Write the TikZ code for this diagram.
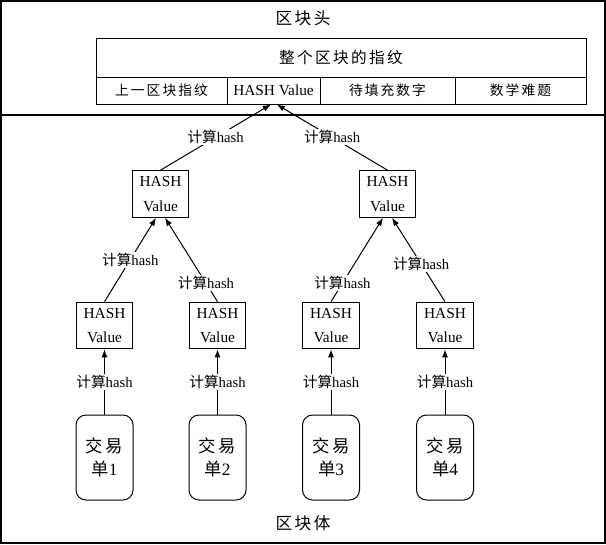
\documentclass[tikz,border=0pt]{standalone}
\usepackage{fontspec}
\setmainfont{Liberation Serif}
\newfontfamily\cjk{Noto Sans CJK SC}
\newfontfamily\cjks[LetterSpace=15]{Noto Sans CJK SC}
\newcommand{\zh}[1]{{\cjk #1}}
\newcommand{\zhs}[1]{{\cjks #1}}
\usetikzlibrary{arrows.meta}

\begin{document}
\begin{tikzpicture}[x=0.75pt,y=-0.75pt,line width=0.75pt]
\tikzstyle{every node}+=[inner sep=0pt]
\tikzstyle{cell}=[draw,minimum height=20.25pt,font=\fontsize{11.5}{13}\selectfont]
\tikzstyle{hashbox}=[draw,minimum width=42.5pt,minimum height=35pt,align=center,font=\fontsize{11.5}{18.5}\selectfont]
\tikzstyle{txbox}=[draw,rounded corners=7.5pt,minimum width=42.75pt,minimum height=63.75pt,align=center,font=\fontsize{13}{17.25}\selectfont]
\tikzstyle{lbl}=[fill=white,inner sep=1pt,font=\fontsize{11}{12}\selectfont]
\tikzstyle{arr}=[-{Latex[length=6pt,width=4.5pt]}]
\useasboundingbox (0,0) rectangle (606,544);
% frame and separator
\draw [line width=1.5pt] (0.75,0.75) rectangle (604.5,542.5);
\draw [line width=1.5pt] (0,115) -- (606,115);
% block header
\node (title) at (303,18) {\fontsize{12.5}{16}\selectfont\zhs{区块头}};
\node [draw,minimum width=367.5pt,minimum height=29.25pt,font=\fontsize{11.75}{15}\selectfont] (fp) at (341,57.5) {\zhs{整个区块的指纹}};
\node [cell,minimum width=98.25pt,font=\fontsize{10.3}{13}\selectfont] (prev) at (161.5,90.5) {\zhs{上一区块指纹}};
\node [cell,minimum width=69.75pt] (hv) at (273.5,90.5) {HASH Value};
\node [cell,minimum width=101.25pt,font=\fontsize{10.3}{13}\selectfont] (nonce) at (387.5,90.5) {\zhs{待填充数字}};
\node [cell,minimum width=98.25pt,font=\fontsize{10.3}{13}\selectfont] (diff) at (520.5,90.5) {\zhs{数学难题}};
% hash tree
\node [hashbox] (hl) at (160.5,194) {HASH\\Value};
\node [hashbox] (hr) at (387.5,194) {HASH\\Value};
\node [hashbox] (h1) at (104.5,325.5) {HASH\\Value};
\node [hashbox] (h2) at (217.5,325.5) {HASH\\Value};
\node [hashbox] (h3) at (331,325.5) {HASH\\Value};
\node [hashbox] (h4) at (445,325.5) {HASH\\Value};
% transactions
\node [txbox] (t1) at (104.5,457.5) {\zhs{交易}\\\zh{单}1};
\node [txbox] (t2) at (217.5,457.5) {\zhs{交易}\\\zh{单}2};
\node [txbox] (t3) at (331,457.5) {\zhs{交易}\\\zh{单}3};
\node [txbox] (t4) at (445,457.5) {\zhs{交易}\\\zh{单}4};
\node (body) at (303,523) {\fontsize{12.5}{16}\selectfont\zhs{区块体}};
% arrows
\draw [arr] (hl.north) -- node [lbl] {\zh{计算}hash} ([xshift=-2pt]hv.south);
\draw [arr] (hr.north) -- node [lbl] {\zh{计算}hash} ([xshift=2.5pt]hv.south);
\draw [arr] (h1.north) -- node [lbl] {\zh{计算}hash} ([xshift=-3.4pt]hl.south);
\draw [arr] (h2.north) -- node [lbl,pos=0.22] {\zh{计算}hash} ([xshift=3.4pt]hl.south);
\draw [arr] (h3.north) -- node [lbl,pos=0.22] {\zh{计算}hash} ([xshift=-3.4pt]hr.south);
\draw [arr] (h4.north) -- node [lbl,pos=0.45] {\zh{计算}hash} ([xshift=3.4pt]hr.south);
\draw [arr] (t1.north) -- node [lbl] {\zh{计算}hash} (h1.south);
\draw [arr] (t2.north) -- node [lbl] {\zh{计算}hash} (h2.south);
\draw [arr] (t3.north) -- node [lbl] {\zh{计算}hash} (h3.south);
\draw [arr] (t4.north) -- node [lbl] {\zh{计算}hash} (h4.south);
\end{tikzpicture}
\end{document}
